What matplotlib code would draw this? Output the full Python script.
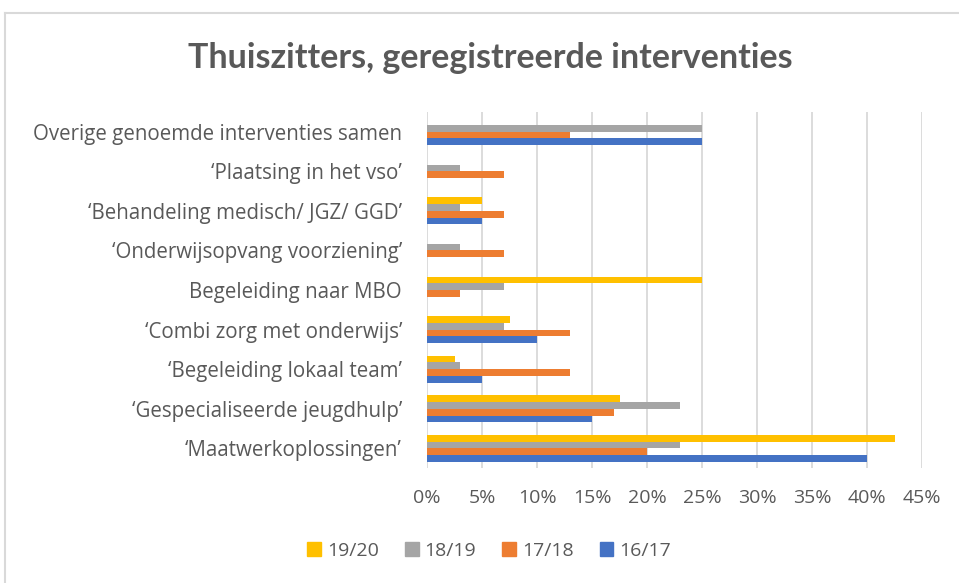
import numpy as np
import matplotlib
matplotlib.use("Agg")
import matplotlib.pyplot as plt
from matplotlib.lines import Line2D
from matplotlib.patches import Patch

# categories, bottom to top
categories = [
    "\u2018Maatwerkoplossingen\u2019",
    "\u2018Gespecialiseerde jeugdhulp\u2019",
    "\u2018Begeleiding lokaal team\u2019",
    "\u2018Combi zorg met onderwijs\u2019",
    "Begeleiding naar MBO",
    "\u2018Onderwijsopvang voorziening\u2019",
    "\u2018Behandeling medisch/ JGZ/ GGD\u2019",
    "\u2018Plaatsing in het vso\u2019",
    "Overige genoemde interventies samen",
]

# values in percent, same order as categories
s1617 = [40, 15, 5, 10, 0, 0, 5, 0, 25]
s1718 = [20, 17, 13, 13, 3, 7, 7, 7, 13]
s1819 = [23, 23, 3, 7, 7, 3, 3, 3, 25]
s1920 = [42.5, 17.5, 2.5, 7.5, 25, 0, 5, 0, 0]

series_names = ["16/17", "17/18", "18/19", "19/20"]
series_vals = [s1617, s1718, s1819, s1920]
colors = ["#4472C4", "#ED7D31", "#A5A5A5", "#FFC000"]

xticks = list(range(0, 50, 5))
xticklabels = [f"{t}%" for t in xticks]

text_col = "#595959"
plt.rcParams["font.family"] = ["Open Sans", "DejaVu Sans"]

fig = plt.figure(figsize=(9.59, 5.83), dpi=100)
ax = fig.add_axes([0.4453, 0.197, 0.5162, 0.611])

y = np.arange(len(categories))
h = 0.17
for i, (name, vals) in enumerate(zip(series_names, series_vals)):
    ax.barh(y + (i - 1.5) * h, vals, height=h, color=colors[i], label=name, zorder=3)

ax.set_xlim(0, 45)
ax.set_ylim(-0.5, 8.5)
ax.set_xticks(xticks)
ax.set_xticklabels(xticklabels)
ax.set_yticks(y)
ax.set_yticklabels(categories)
ax.tick_params(axis="both", length=0, colors=text_col, labelsize=14)
ax.tick_params(axis="y", pad=18, labelsize=14.8)
ax.tick_params(axis="x", pad=15)
ax.grid(axis="x", color="#D9D9D9", linewidth=1.3, zorder=0)
for s in ax.spines.values():
    s.set_visible(False)

fig.text(0.511, 0.9, "Thuiszitters, geregistreerde interventies", ha="center", va="center",
         fontsize=24.5, fontweight="bold", color=text_col, family=["Lato", "DejaVu Sans"])

# legend in reverse order like the original
handles = [Patch(color=colors[i]) for i in range(3, -1, -1)]
labels = [series_names[i] for i in range(3, -1, -1)]
fig.legend(handles, labels, loc="center", bbox_to_anchor=(0.51, 0.055), ncol=4, frameon=False,
           fontsize=14, labelcolor=text_col, handlelength=0.7, handleheight=0.7,
           handletextpad=0.3, columnspacing=1.35)

# chart frame (top and left edges visible)
fig.add_artist(Line2D([0.0055, 0.0055], [0, 0.978], color="#D9D9D9", linewidth=1.5))
fig.add_artist(Line2D([0.0055, 1.0], [0.978, 0.978], color="#D9D9D9", linewidth=1.5))

fig.savefig("out.png", dpi=100)
